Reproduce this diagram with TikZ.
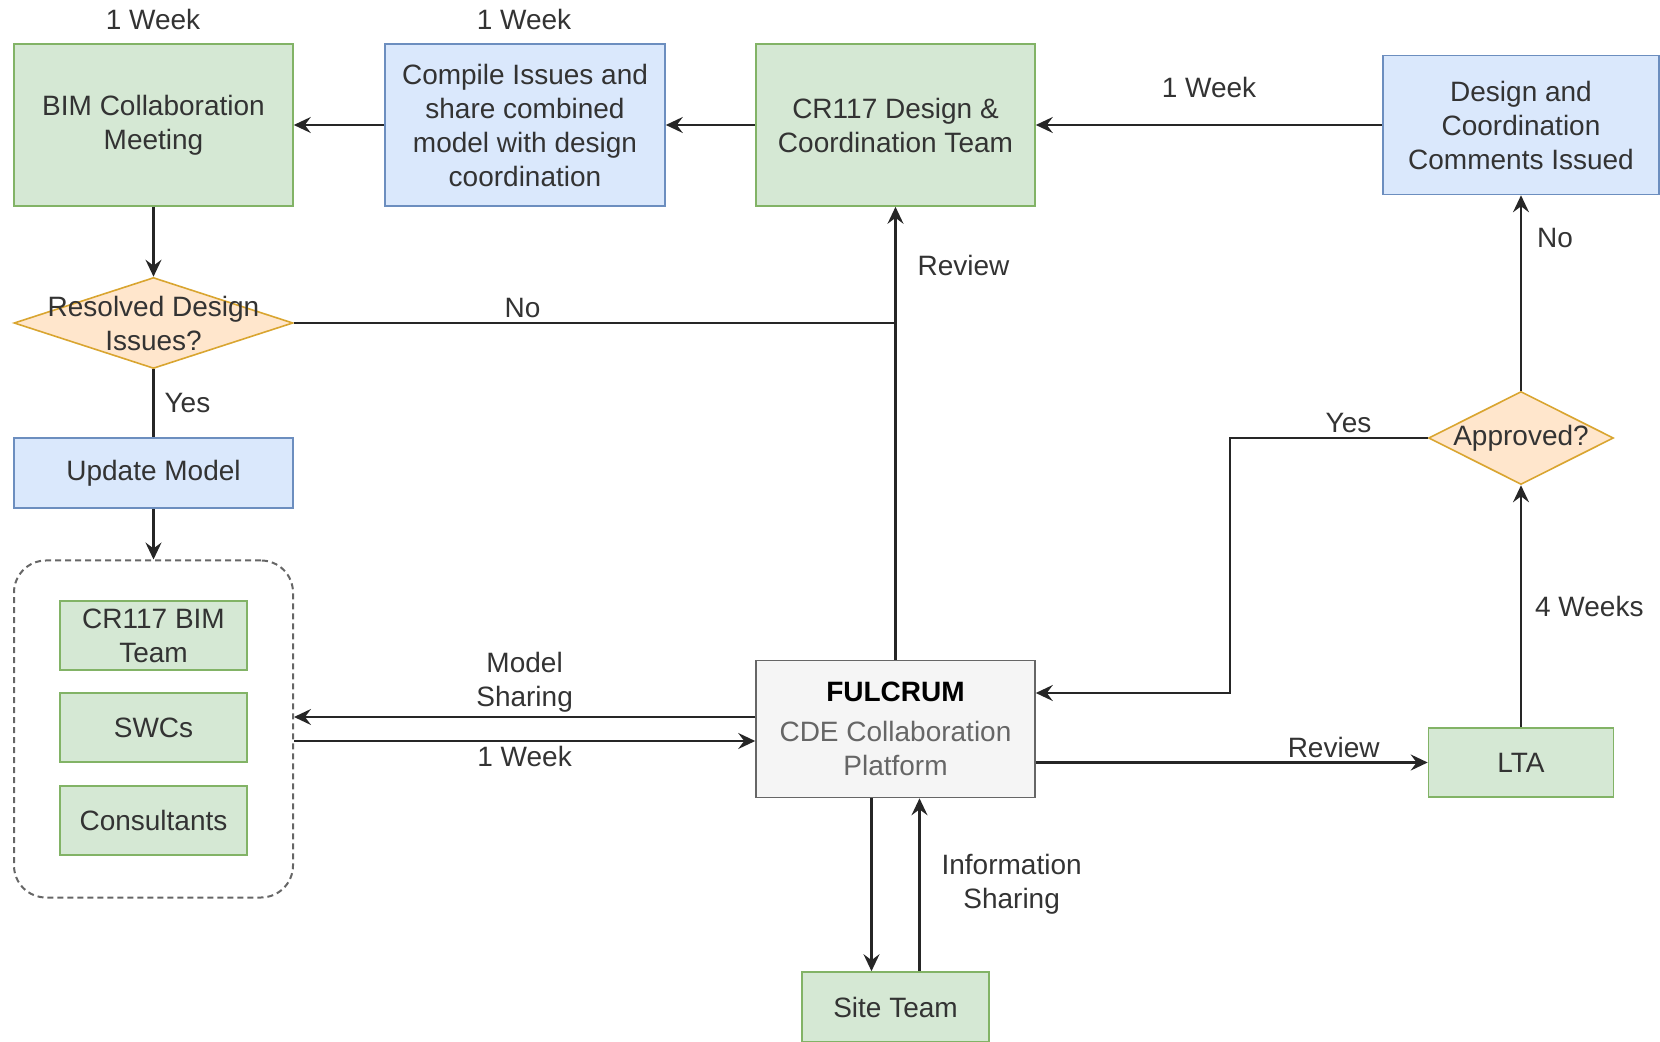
\documentclass[tikz,border=0pt]{standalone}
\usepackage{fontspec}
\setmainfont{Liberation Sans}
\usetikzlibrary{arrows.meta, shapes.geometric}
\definecolor{greenfill}{HTML}{D5E8D4}
\definecolor{greenline}{HTML}{82B366}
\definecolor{bluefill}{HTML}{DAE8FC}
\definecolor{blueline}{HTML}{6C8EBF}
\definecolor{orangefill}{HTML}{FFE6CC}
\definecolor{orangeline}{HTML}{D9A530}
\definecolor{greyfill}{HTML}{F5F5F5}
\definecolor{greyline}{HTML}{666666}
\definecolor{textgrey}{HTML}{333333}
\begin{document}
\begin{tikzpicture}[x=0.5pt, y=-0.5pt, >={Stealth[length=8.5pt, width=8pt, inset=3pt]},
    font=\fontsize{14}{17}\selectfont, text=textgrey,
    greenbox/.style={draw=greenline, fill=greenfill, line width=0.8pt, align=center},
    bluebox/.style={draw=blueline, fill=bluefill, line width=0.8pt, align=center},
    decision/.style={diamond, draw=orangeline, fill=orangefill, line width=0.8pt, inner sep=0pt},
    link/.style={line width=1.1pt, draw=black!85},
    tag/.style={inner sep=2pt, align=center}]
    \useasboundingbox (0,0) rectangle (1660,1042);

    \node[greenbox, minimum width=139.5pt, minimum height=81pt]
        (bim) at (153.5,125) {BIM Collaboration\\Meeting};
    \node[bluebox, minimum width=140pt, minimum height=81pt]
        (compile) at (525,125) {Compile Issues and\\share combined\\model with design\\coordination};
    \node[greenbox, minimum width=139.5pt, minimum height=81pt]
        (design) at (895.5,125) {CR117 Design \&\\Coordination Team};
    \node[bluebox, minimum width=138pt, minimum height=69.5pt]
        (comments) at (1521,125) {Design and\\Coordination\\Comments Issued};
    \node[tag] (bimweek) at (153,19) {1 Week};
    \node[tag] (compileweek) at (524,19) {1 Week};

    \node[decision, minimum width=139.5pt, minimum height=45.5pt,
        label={[tag]center:Resolved Design\\Issues?}] (resolved) at (153.5,323) {};
    \node[bluebox, minimum width=139.5pt, minimum height=35pt]
        (update) at (153.5,473) {Update Model};

    \node[draw=greyline, line width=1pt, dash pattern=on 3pt off 2pt, rounded corners=16pt,
        minimum width=139.5pt, minimum height=168.5pt] (group) at (153.5,729) {};
    \node[greenbox, minimum width=93.5pt, minimum height=34.5pt]
        (bimteam) at (153.5,635.5) {CR117 BIM\\Team};
    \node[greenbox, minimum width=93.5pt, minimum height=34.5pt]
        (swcs) at (153.5,727.5) {SWCs};
    \node[greenbox, minimum width=93.5pt, minimum height=34.5pt]
        (consultants) at (153.5,820.5) {Consultants};

    \node[draw=greyline, fill=greyfill, line width=0.8pt, align=center,
        minimum width=139.5pt, minimum height=68.5pt] (fulcrum) at (895.5,729)
        {\textcolor{black}{\textbf{FULCRUM}}\\[3pt]\textcolor{greyline}{CDE Collaboration}\\\textcolor{greyline}{Platform}};
    \node[decision, minimum width=92.5pt, minimum height=46.5pt,
        label={[tag]center:Approved?}] (approved) at (1521,438) {};
    \node[greenbox, minimum width=92.5pt, minimum height=34.5pt]
        (lta) at (1521,762.5) {LTA};
    \node[greenbox, minimum width=93.5pt, minimum height=35pt]
        (site) at (895.5,1007) {Site Team};

    \draw[link,->] (compile) -- (bim);
    \draw[link,->] (design) -- (compile);
    \draw[link,->] (comments) -- node[tag, above=11pt] {1 Week} (design);
    \draw[link,->] (bim) -- (resolved);
    \draw[link] (resolved) -- node[tag, above, pos=0.38] {No} (resolved.east -| design.south);
    \draw[link,->] (fulcrum) -- node[tag, right, pos=0.87, xshift=8.5pt] {Review} (design);
    \draw[link] (resolved) -- node[tag, right, xshift=3pt] {Yes} (update);
    \draw[link,->] (update) -- (group);
    \draw[link,->] ([yshift=6pt]fulcrum.west) -- node[tag, above] {Model\\Sharing} ([yshift=6pt]group.east);
    \draw[link,->] ([yshift=-6pt]group.east) -- node[tag, below] {1 Week} ([yshift=-6pt]fulcrum.west);
    \draw[link,->] (approved) -- node[tag, right, pos=0.78, xshift=5.5pt] {No} (comments);
    \draw[link,->] (approved.west) -- node[tag, above, pos=0.4] {Yes} ++(-198,0)
        |- ([yshift=18pt]fulcrum.east);
    \draw[link,->] (lta.west -| fulcrum.east) -- node[tag, above, pos=0.76] {Review} (lta.west);
    \draw[link,->] (lta) -- node[tag, right, xshift=4.5pt] {4 Weeks} (approved);
    \draw[link,->] ([xshift=-12pt]fulcrum.south) -- ([xshift=-12pt]site.north);
    \draw[link,->] ([xshift=12pt]site.north) -- node[tag, right, xshift=8.5pt] {Information\\Sharing}
        ([xshift=12pt]fulcrum.south);
\end{tikzpicture}
\end{document}
